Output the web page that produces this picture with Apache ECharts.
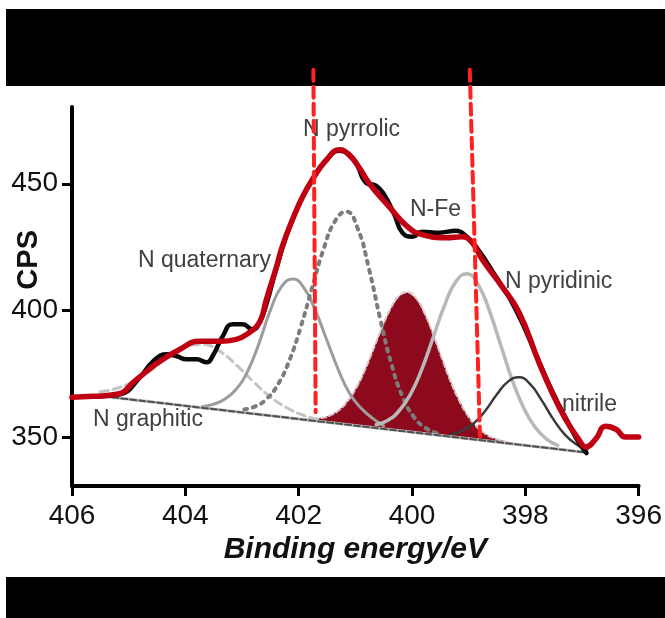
<!DOCTYPE html>
<html>
<head>
<meta charset="utf-8">
<title>N 1s XPS</title>
<script src="https://cdn.jsdelivr.net/npm/echarts@6/dist/echarts.min.js"></script>
<style>
  html, body { margin: 0; padding: 0; background: #fff; }
  #chart { width: 665px; height: 618px; }
</style>
</head>
<body>
<div id="chart"></div>
<script>
// x ticks (binding energy, eV) and y ticks (CPS)
const xTicks = [396, 398, 400, 402, 404, 406];
const yTicks = [350, 400, 450];

// measured spectrum [eV, CPS]
const measured = [
  [405.51, 366.1], [405.15, 366.9], [404.80, 373.6], [404.57, 379.9], [404.33, 382.7],
  [404.15, 381.9], [403.98, 380.7], [403.80, 380.7], [403.62, 379.5], [403.52, 381.9],
  [403.34, 389.8], [403.17, 394.5], [402.99, 394.5], [402.81, 392.5], [402.69, 395.3],
  [402.57, 402.4], [402.39, 416.9], [402.11, 435.8], [401.76, 451.6], [401.51, 459.4],
  [401.28, 463.0], [401.02, 459.4], [400.81, 450.4], [400.63, 449.2], [400.49, 445.7],
  [400.31, 437.8], [400.17, 430.7], [399.99, 429.1], [399.82, 431.1], [399.52, 430.7],
  [399.22, 431.5], [399.05, 429.5], [398.87, 425.2], [398.52, 413.4], [398.17, 400.4],
  [397.76, 379.9], [397.50, 366.9], [397.23, 355.1], [397.06, 348.0], [396.92, 343.7]
];

// fitted envelope
const envelope = [
  [406.00, 365.7], [405.63, 366.1], [405.21, 366.9], [404.86, 372.8], [404.45, 379.9],
  [404.10, 384.6], [403.75, 387.8], [403.39, 387.8], [403.10, 388.6], [402.87, 391.3],
  [402.69, 395.3], [402.57, 404.3], [402.39, 417.3], [402.29, 425.2], [402.11, 435.8],
  [401.93, 444.9], [401.76, 451.6], [401.51, 459.4], [401.28, 463.4], [401.11, 461.4],
  [400.93, 456.3], [400.75, 450.0], [400.40, 440.9], [400.10, 433.5], [399.82, 429.9],
  [399.40, 428.7], [399.12, 429.1], [398.94, 426.8], [398.76, 420.1], [398.41, 409.4],
  [398.11, 399.2], [397.76, 379.5], [397.53, 367.7], [397.29, 357.1], [397.06, 349.2],
  [396.93, 346.1], [396.76, 349.2], [396.58, 354.3], [396.40, 353.1], [396.23, 350.0],
  [396.00, 350.0]
];

const background = [[405.6, 366.5], [396.95, 344.0]];

const nGraphitic = [
  [405.5, 367.9], [405.2, 369.3], [404.9, 372.1], [404.6, 376.5], [404.3, 381.7],
  [404.0, 385.6], [403.7, 386.6], [403.4, 384.0], [403.1, 378.5], [402.8, 371.9],
  [402.5, 365.9], [402.2, 361.5], [401.9, 358.5], [401.6, 356.7]
];

const nQuaternary = [
  [403.7, 362.0], [403.5, 363.0], [403.3, 365.0], [403.1, 369.0], [402.9, 376.0],
  [402.7, 387.0], [402.5, 400.0], [402.3, 409.5], [402.1, 412.4], [401.9, 408.7],
  [401.7, 399.7], [401.5, 388.1], [401.3, 376.6], [401.1, 367.2], [400.9, 361.5],
  [400.7, 357.5], [400.5, 354.5]
];

const nPyrrolic = [
  [402.96, 360.9], [402.76, 362.2], [402.56, 365.2], [402.36, 371.0], [402.16, 380.5],
  [401.96, 393.7], [401.76, 409.2], [401.56, 424.2], [401.36, 435.2], [401.16, 439.0],
  [400.96, 432.5], [400.76, 416.5], [400.56, 396.6], [400.36, 378.6], [400.16, 365.6],
  [399.96, 357.8], [399.76, 353.6], [399.56, 351.5]
];

const nFe = [
  [401.88, 357.2], [401.58, 357.6], [401.43, 358.7], [401.28, 360.8], [401.13, 364.4],
  [400.98, 369.6], [400.83, 376.5], [400.68, 384.8], [400.53, 393.2], [400.38, 400.6],
  [400.23, 405.7], [400.08, 407.2], [399.93, 404.9], [399.78, 399.0], [399.63, 390.8],
  [399.48, 381.6], [399.33, 372.6], [399.18, 365.0], [399.03, 359.0], [398.88, 354.6],
  [398.73, 351.7], [398.58, 349.8], [398.28, 347.8]
];

const nPyridinic = [
  [400.63, 355.0], [400.43, 356.6], [400.23, 360.3], [400.03, 366.8], [399.83, 376.6],
  [399.63, 389.1], [399.43, 401.7], [399.23, 411.2], [399.03, 414.5], [398.83, 410.1],
  [398.63, 399.6], [398.43, 386.0], [398.23, 372.5], [398.03, 361.6], [397.83, 354.0],
  [397.63, 349.3], [397.43, 346.7]
];

const nitrile = [
  [399.31, 351.2], [399.11, 352.5], [398.91, 355.4], [398.71, 360.3], [398.51, 366.6],
  [398.31, 371.8], [398.11, 373.6], [397.91, 370.8], [397.71, 364.5], [397.51, 357.2],
  [397.31, 351.2], [397.11, 347.3], [396.91, 344.9]
];

// red guide lines bracketing the N-Fe window
const guideLeft = [[401.74, 495], [401.70, 359.8]];
const guideRight = [[398.98, 495], [398.80, 350.4]];

const labelFont = '"Liberation Sans", Arial, sans-serif';

function curve(data, color, width, type, z) {
  return {
    type: 'line', data: data, smooth: true, symbol: 'none', silent: true, z: z,
    lineStyle: { color: color, width: width, type: type || 'solid', cap: 'round' }
  };
}

const chart = echarts.init(document.getElementById('chart'));

const option = {
  backgroundColor: '#fff',
  animation: false,
  grid: { left: 72, right: 25, top: 107, bottom: 132 },
  xAxis: {
    type: 'value', inverse: true, min: 396, max: 406, interval: 2,
    name: 'Binding energy/eV', nameLocation: 'middle', nameGap: 47,
    nameTextStyle: { fontFamily: labelFont, fontSize: 30, fontWeight: 'bold', fontStyle: 'italic', color: '#111' },
    axisLine: { lineStyle: { color: '#000', width: 4 } },
    axisTick: { length: 10, lineStyle: { color: '#000', width: 3 } },
    axisLabel: { margin: 16, fontFamily: labelFont, fontSize: 28, color: '#111', customValues: xTicks },
    splitLine: { show: false }
  },
  yAxis: {
    type: 'value', min: 330.7, max: 480.3,
    axisLine: { show: true, lineStyle: { color: '#000', width: 4 } },
    axisTick: { show: true, length: 10, lineStyle: { color: '#000', width: 3 }, customValues: yTicks },
    axisLabel: { margin: 14, fontFamily: labelFont, fontSize: 28, color: '#111', customValues: yTicks },
    splitLine: { show: false }
  },
  graphic: [
    { type: 'rect', z: 0, shape: { x: 6, y: 9, width: 659, height: 77 }, style: { fill: '#000' } },
    { type: 'rect', z: 0, shape: { x: 6, y: 577, width: 659, height: 41 }, style: { fill: '#000' } },
    { type: 'text', left: 14, top: 230, rotation: Math.PI / 2,
      style: { text: 'CPS', fontFamily: labelFont, fontSize: 29, fontWeight: 'bold', fill: '#111' } },
    { type: 'text', x: 303, y: 130, style: { text: 'N pyrrolic', fontFamily: labelFont, fontSize: 23, fill: '#404040', verticalAlign: 'middle' } },
    { type: 'text', x: 410, y: 210, style: { text: 'N-Fe', fontFamily: labelFont, fontSize: 23, fill: '#404040', verticalAlign: 'middle' } },
    { type: 'text', x: 138, y: 261, style: { text: 'N quaternary', fontFamily: labelFont, fontSize: 23, fill: '#404040', verticalAlign: 'middle' } },
    { type: 'text', x: 505, y: 282, style: { text: 'N pyridinic', fontFamily: labelFont, fontSize: 23, fill: '#404040', verticalAlign: 'middle' } },
    { type: 'text', x: 562, y: 405, style: { text: 'nitrile', fontFamily: labelFont, fontSize: 23, fill: '#404040', verticalAlign: 'middle' } },
    { type: 'text', x: 93, y: 420, style: { text: 'N graphitic', fontFamily: labelFont, fontSize: 23, fill: '#404040', verticalAlign: 'middle' } }
  ],
  series: [
    {
      // filled N-Fe component, closed against the linear background
      type: 'custom', data: nFe, silent: true, z: 1,
      renderItem: function (params, api) {
        if (params.dataIndex !== 0) return null;
        const pts = nFe.map(function (p) { return api.coord(p); });
        return { type: 'polygon', shape: { points: pts }, style: { fill: '#8c0a1c' } };
      }
    },
    curve(nFe, '#d8c8c8', 2, [5, 3], 3),
    curve(nGraphitic, '#c4c4c4', 3, [8, 5], 3),
    curve(nQuaternary, '#9c9c9c', 3, 'solid', 3),
    curve(nPyrrolic, '#7c7c7c', 4, [3, 6], 3),
    curve(nPyridinic, '#b8b8b8', 3.5, 'solid', 3),
    curve(nitrile, '#3a3a3a', 2.5, 'solid', 3),
    curve(background, '#bdbdbd', 3, 'solid', 4),
    curve(background, '#505050', 2, [6, 3], 4),
    curve(measured, '#0a0a0a', 4.5, 'solid', 5),
    curve(envelope, '#c00012', 5.5, 'solid', 6),
    Object.assign(curve(guideLeft, '#ff2020', 4, [11, 6], 7), { smooth: false, clip: false }),
    Object.assign(curve(guideRight, '#ff2020', 4, [11, 6], 7), { smooth: false, clip: false })
  ]
};

chart.setOption(option);
</script>
</body>
</html>
